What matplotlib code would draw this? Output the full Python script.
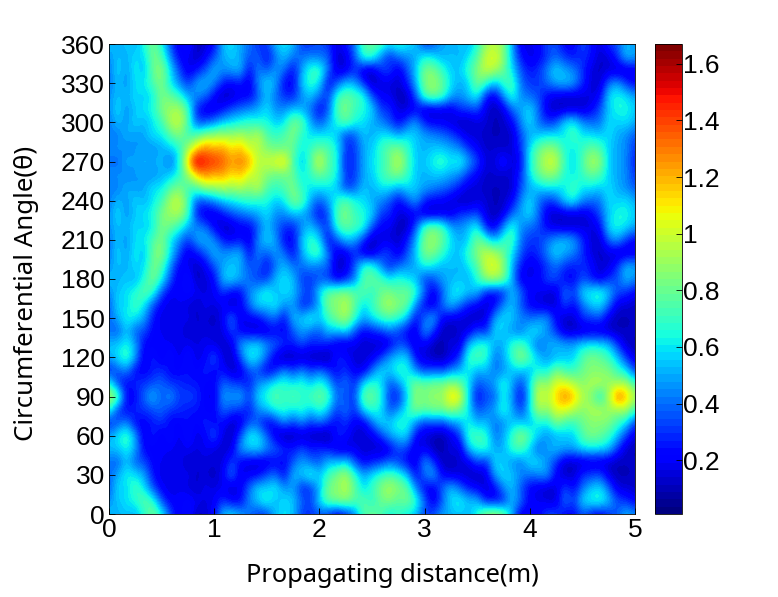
#!/usr/bin/env python3
"""
Field intensity map over a pipe: propagating distance vs circumferential angle
Values are in hundredths, read off the picture
"""
import numpy as np
import matplotlib
matplotlib.use('Agg')
import matplotlib.pyplot as plt

# distance columns every 1/12 m, angle rows every 10 deg
distance = [i / 12 for i in range(61)]

# rows around the 90 deg focus (same above and below it)
a000 = [55,50,55,50,65,85,65,35,15,30, 10,15,20,55,60,50,40,30,30,55, 60,55,30,30,35,30,15,25,40,75, 80,75,60,70,60,55,30,35,50,50, 55,50,65,90,95,85,50,15,20,20, 35,35,20,20,35,25,15,30,35,55, 45]
a010 = [45,55,60,65,80,70,35,20,20,25, 20,15,20,30,20,20,45,55,70,50, 60,55,40,30,60,80,85,90,75,80, 65,80,85,75,85,70,40,15,35,60, 65,55,55,25,20,25,55,40,20,20, 15,12,45,30,60,65,70,55,35,30, 20]
a020 = [35,60,55,75,60,35,20,15,20,15, 12,20,15,20,10,20,40,60,55,65, 45,50,25,30,50,85,85,95,80,55, 70,85,95,85,80,45,20,15,40,55, 40,25,20,12,20,45,55,35,20,15, 12,15,35,20,40,55,60,40,15,15, 12]
a030 = [40,50,65,60,50,25,15,20,15,20, 12,15,10,20,45,15,20,20,35,40, 20,55,55,70,55,70,85,95,70,50, 60,70,75,70,55,20,40,55,20,15, 15,12,10,15,50,60,55,45,40,45, 50,20,12,12,30,30,35,15,10,10, 12]
a040 = [40,35,55,35,35,20,20,15,20,12, 15,15,15,15,35,20,15,12,15,20, 20,35,50,40,35,55,50,60,35,20, 25,30,40,30,20,15,50,30,10,10, 15,15,35,25,60,55,45,40,60,60, 45,30,12,12,10,15,12,12,10,12, 12]
a050 = [55,55,65,50,20,20,20,20,15,20, 15,20,15,12,15,50,55,60,45,40, 30,25,35,25,30,25,15,12,20,12, 15,10,15,35,30,15,20,10,8,20, 10,55,65,70,50,50,70,75,55,35, 50,55,50,50,60,60,60,55,30,12, 10]
a060 = [50,60,75,50,15,30,15,30,15,30, 15,20,40,15,10,35,65,60,40,15, 5,10,10,10,5,5,30,25,12,15, 15,30,50,55,60,20,15,10,8,15, 30,70,75,70,40,50,70,90,75,55, 45,50,55,55,75,85,80,70,55,30, 15]
a070 = [25,35,45,20,20,25,30,20,20,25, 20,30,20,25,10,15,35,35,15,25, 45,30,45,30,40,30,20,30,20,15, 40,60,55,70,65,45,30,35,30,45, 50,65,50,55,40,45,55,55,50,65, 60,85,70,70,80,85,85,85,70,60, 30]
a080 = [70,30,20,30,30,35,40,30,30,25, 25,20,20,40,35,30,25,45,55,65, 70,60,70,55,70,55,30,45,25,60, 70,60,35,45,65,85,80,85,85,90, 80,60,35,40,50,70,50,30,60,95, 85,105,105,95,85,95,95,90,90,95, 70]
a090 = [100,85,20,20,40,55,35,50,30,35, 30,20,15,50,45,55,30,60,65,80, 65,80,65,75,80,75,40,35,30,80, 80,70,30,25,55,90,80,90,85,115, 110,60,20,35,35,65,45,20,55,105, 95,115,130,120,95,85,60,90,140,120, 95]

# rows around the 270 deg focus (same above and below it)
a190 = [45,55,50,60,55,85,75,45,20,20, 10,20,35,50,55,50,35,40,20,40, 55,40,40,45,40,40,12,15,35,70, 70,45,25,40,45,50,65,60,50,55, 50,60,75,100,105,90,50,25,15,20, 30,40,30,25,30,25,12,15,30,55, 50]
a200 = [40,60,45,65,50,80,90,60,35,15, 25,35,55,45,50,55,20,45,35,50, 40,20,50,70,75,40,15,15,30,12, 10,30,35,15,35,55,85,85,70,55, 55,70,85,100,95,80,60,35,25,30, 45,60,50,45,30,15,12,15,10,12, 15]
a210 = [40,55,45,60,60,75,85,60,45,30, 50,55,45,25,20,25,15,45,60,50, 20,20,55,70,60,20,35,55,50,30, 10,15,15,12,25,50,85,90,80,60, 50,55,85,70,50,70,75,40,30,30, 40,50,55,50,30,15,12,40,50,30, 20]
a220 = [45,55,50,60,55,60,85,80,70,50, 45,40,20,10,12,20,20,35,55,40, 30,25,45,55,40,30,70,80,75,70, 35,20,20,10,10,35,75,85,75,50, 45,55,65,25,15,45,70,45,40,35, 20,15,12,12,15,15,20,60,65,60, 50]
a230 = [45,60,45,55,60,65,85,90,95,75, 25,15,15,25,35,40,45,50,60,45, 45,55,50,40,20,35,75,85,70,65, 60,30,30,15,15,20,12,10,15,15, 30,30,35,15,10,15,40,50,60,40, 15,10,12,15,12,20,35,55,65,65, 55]
a240 = [40,55,45,60,50,60,70,95,100,75, 35,35,45,55,60,65,70,65,65,55, 60,85,80,50,35,50,65,80,65,60, 50,45,35,20,35,50,25,20,20,15, 10,10,15,15,10,12,20,45,60,40, 30,35,60,65,45,40,40,60,55,60, 50]
a250 = [45,40,55,45,50,60,60,75,85,70, 75,90,90,95,90,95,85,100,75,70, 75,85,65,60,60,60,55,30,35,55, 50,60,60,50,60,55,50,45,40,35, 25,15,15,12,10,12,12,35,50,55, 60,60,60,75,60,60,55,60,50,45, 35]
a260 = [40,50,40,50,45,45,50,55,65,90, 115,130,120,125,110,120,100,95,85,80, 80,80,60,70,80,75,65,30,30,50, 55,70,80,85,70,55,50,55,55,50, 45,30,20,12,15,12,15,30,60,80, 90,85,65,60,70,80,75,55,50,45, 30]
a270 = [45,35,55,45,55,50,55,38,60,115, 165,145,145,135,125,130,125,95,100,105, 115,75,50,75,105,75,65,25,30,50, 60,65,80,100,75,55,55,65,72,60, 68,50,35,15,15,30,12,20,65,85, 100,100,70,55,75,95,90,55,50,45, 25]

angle = list(range(0, 361, 10))
rows = [a000, a010, a020, a030, a040, a050, a060, a070, a080, a090,
        a080, a070, a060, a050, a040, a030, a020, a010, a000,
        a190, a200, a210, a220, a230, a240, a250, a260, a270,
        a260, a250, a240, a230, a220, a210, a200, a190, a000]
x_ticks = [0, 1, 2, 3, 4, 5]
y_ticks = list(range(0, 361, 30))
cbar_ticks = [0.2, 0.4, 0.6, 0.8, 1, 1.2, 1.4, 1.6]

W, H = 778, 597
grid = np.array(rows) / 100
dx = distance[1] - distance[0]
dy = angle[1] - angle[0]

plt.rcParams['font.family'] = ['Liberation Sans', 'DejaVu Sans']
fig = plt.figure(figsize=(W / 100, H / 100), dpi=100)
ax = fig.add_axes([109 / W, 1 - 514 / H, 526 / W, 470 / H])
cax = fig.add_axes([655 / W, 1 - 514 / H, 27 / W, 470 / H])

im = ax.imshow(grid, origin='lower', aspect='auto', interpolation='bicubic',
               cmap=plt.get_cmap('jet', 64), vmin=0.01, vmax=1.67,
               extent=[distance[0] - dx / 2, distance[-1] + dx / 2,
                       angle[0] - dy / 2, angle[-1] + dy / 2])
ax.set_xlim(0, 5)
ax.set_ylim(0, 360)
ax.set_xticks(x_ticks)
ax.set_yticks(y_ticks)
ax.tick_params(direction='in', length=4, width=0.6, labelsize=19, pad=3)
ax.set_xlabel('Propagating distance(m)', fontsize=18.3, family=['Noto Sans'], va='center')
ax.set_ylabel('Circumferential Angle(θ)', fontsize=18.6, family=['Noto Sans', 'DejaVu Sans'], va='center')
ax.xaxis.set_label_coords(0.538, -0.13)
ax.yaxis.set_label_coords(-0.156, 0.47)

cb = fig.colorbar(im, cax=cax, ticks=cbar_ticks)
cb.ax.set_yticklabels(['0.2', '0.4', '0.6', '0.8', '1', '1.2', '1.4', '1.6'])
cb.ax.tick_params(direction='in', length=4, width=0.6, labelsize=19, pad=1)
cb.outline.set_linewidth(0.6)
for spine in ax.spines.values():
    spine.set_linewidth(0.6)

plt.savefig('out.png', dpi=100)
